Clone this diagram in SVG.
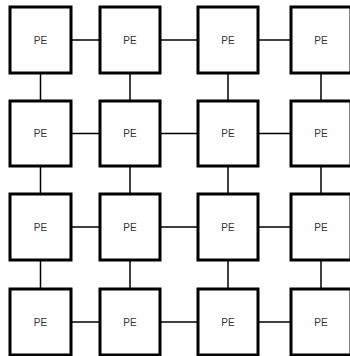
<svg xmlns="http://www.w3.org/2000/svg" width="350" height="356" viewBox="0 0 350 356">
<style>
.pe rect{fill:#fff;stroke:#000;stroke-width:3}
.pe text{font-family:"Liberation Sans",Arial,sans-serif;font-size:10px;fill:#333;text-anchor:middle;dominant-baseline:central}
#connectors line{stroke:#000;stroke-width:1.5}
</style>
<rect width="350" height="356" fill="#fff"/>
<g id="connectors">
<line x1="71" y1="40" x2="100" y2="40"/><line x1="160" y1="40" x2="198" y2="40"/><line x1="258" y1="40" x2="291" y2="40"/>
<line x1="71" y1="133.5" x2="100" y2="133.5"/><line x1="160" y1="133.5" x2="198" y2="133.5"/><line x1="258" y1="133.5" x2="291" y2="133.5"/>
<line x1="71" y1="227" x2="100" y2="227"/><line x1="160" y1="227" x2="198" y2="227"/><line x1="258" y1="227" x2="291" y2="227"/>
<line x1="71" y1="322" x2="100" y2="322"/><line x1="160" y1="322" x2="198" y2="322"/><line x1="258" y1="322" x2="291" y2="322"/>
<line x1="40.5" y1="73" x2="40.5" y2="101"/><line x1="40.5" y1="166" x2="40.5" y2="194"/><line x1="40.5" y1="260" x2="40.5" y2="289"/>
<line x1="130" y1="73" x2="130" y2="101"/><line x1="130" y1="166" x2="130" y2="194"/><line x1="130" y1="260" x2="130" y2="289"/>
<line x1="228" y1="73" x2="228" y2="101"/><line x1="228" y1="166" x2="228" y2="194"/><line x1="228" y1="260" x2="228" y2="289"/>
<line x1="321" y1="73" x2="321" y2="101"/><line x1="321" y1="166" x2="321" y2="194"/><line x1="321" y1="260" x2="321" y2="289"/>
</g>
<g id="pe-0-0" class="pe"><rect x="10" y="7" width="61" height="66"/><text x="40.5" y="40">PE</text></g>
<g id="pe-0-1" class="pe"><rect x="100" y="7" width="60" height="66"/><text x="130" y="40">PE</text></g>
<g id="pe-0-2" class="pe"><rect x="198" y="7" width="60" height="66"/><text x="228" y="40">PE</text></g>
<g id="pe-0-3" class="pe"><rect x="291" y="7" width="60" height="66"/><text x="321" y="40">PE</text></g>
<g id="pe-1-0" class="pe"><rect x="10" y="101" width="61" height="65"/><text x="40.5" y="133.5">PE</text></g>
<g id="pe-1-1" class="pe"><rect x="100" y="101" width="60" height="65"/><text x="130" y="133.5">PE</text></g>
<g id="pe-1-2" class="pe"><rect x="198" y="101" width="60" height="65"/><text x="228" y="133.5">PE</text></g>
<g id="pe-1-3" class="pe"><rect x="291" y="101" width="60" height="65"/><text x="321" y="133.5">PE</text></g>
<g id="pe-2-0" class="pe"><rect x="10" y="194" width="61" height="66"/><text x="40.5" y="227">PE</text></g>
<g id="pe-2-1" class="pe"><rect x="100" y="194" width="60" height="66"/><text x="130" y="227">PE</text></g>
<g id="pe-2-2" class="pe"><rect x="198" y="194" width="60" height="66"/><text x="228" y="227">PE</text></g>
<g id="pe-2-3" class="pe"><rect x="291" y="194" width="60" height="66"/><text x="321" y="227">PE</text></g>
<g id="pe-3-0" class="pe"><rect x="10" y="289" width="61" height="66"/><text x="40.5" y="322">PE</text></g>
<g id="pe-3-1" class="pe"><rect x="100" y="289" width="60" height="66"/><text x="130" y="322">PE</text></g>
<g id="pe-3-2" class="pe"><rect x="198" y="289" width="60" height="66"/><text x="228" y="322">PE</text></g>
<g id="pe-3-3" class="pe"><rect x="291" y="289" width="60" height="66"/><text x="321" y="322">PE</text></g>
</svg>
